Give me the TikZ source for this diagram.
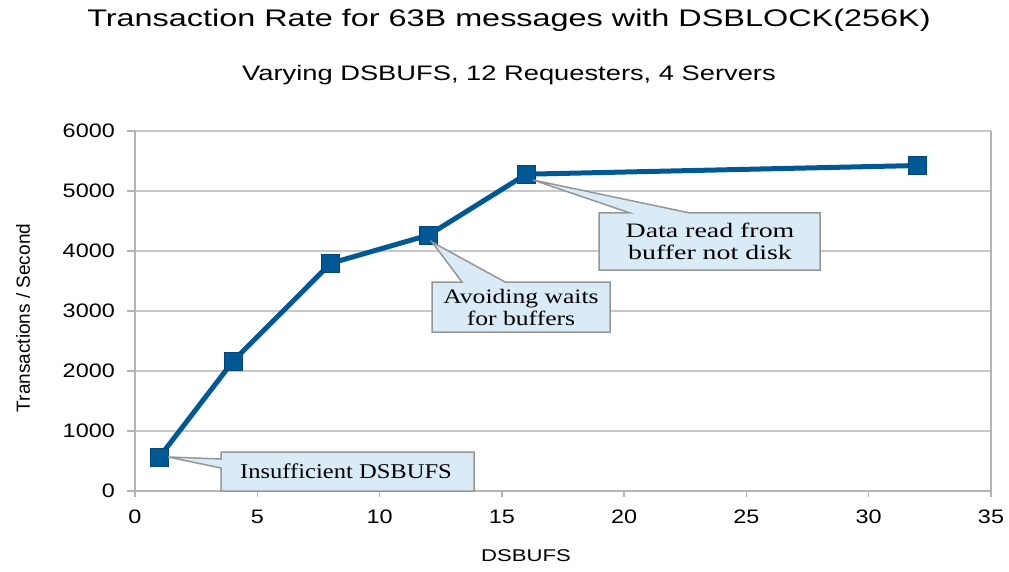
\documentclass[tikz,border=0pt]{standalone}
\usepackage{fontspec}
\setmainfont{Liberation Sans}
\newfontfamily\SansW[FakeStretch=1.35]{Liberation Sans}
\newfontfamily\SansS[FakeStretch=1.3]{Liberation Sans}
\newfontfamily\SansT[FakeStretch=1.2]{Liberation Sans}
\newfontfamily\SansA[FakeStretch=1.3]{Liberation Sans}
\newfontfamily\SerA[FakeStretch=1.17]{Liberation Serif}
\newfontfamily\SerB[FakeStretch=1.25]{Liberation Serif}
\newfontfamily\SerC[FakeStretch=1.36]{Liberation Serif}
\usetikzlibrary{calc}
\definecolor{serieblue}{RGB}{0,88,148}
\definecolor{gridgray}{RGB}{200,200,200}
\definecolor{callfill}{RGB}{216,235,247}
\definecolor{callline}{RGB}{150,150,150}
\begin{document}
\begin{tikzpicture}[x=1pt,y=-1pt,
  gridline/.style={draw=gridgray,line width=1.5pt},
  axisline/.style={draw=gridgray!90!black,line width=1.5pt},
  ticklab/.style={font=\SansT\fontsize{19.5}{21}\selectfont,inner sep=0pt},
  series/.style={draw=serieblue,line width=5pt,line join=round},
  marker/.style={rectangle,fill=serieblue,draw=serieblue!80!black,line width=0.6pt,minimum size=18pt,inner sep=0pt},
  callshape/.style={fill=callfill,draw=callline,line width=1.5pt,line join=miter},
  calltext/.style={align=center,inner sep=0pt,text=black}]
\useasboundingbox (0,0) rectangle (1009,572);
\fill[white] (0,0) rectangle (1009,572);
% grid
\foreach \k in {1,...,6} \draw[gridline] (135,{491-60*\k}) -- (991,{491-60*\k});
\draw[axisline] (135,131) -- (135,491) -- (991,491) -- (991,131);
\foreach \k in {0,...,6} \draw[axisline] (127,{491-60*\k}) -- (135,{491-60*\k});
\foreach \k in {0,...,7} \draw[axisline] ({135+5*\k*24.457},491) -- ({135+5*\k*24.457},497);
% tick labels
\node[ticklab,anchor=east] (y0) at (115,491) {0};
\foreach \k in {1,...,6} \node[ticklab,anchor=east] (y\k) at (115,{491-60*\k}) {\k000};
\foreach \k in {0,...,7} {
  \pgfmathtruncatemacro{\lab}{5*\k}
  \node[ticklab] (x\k) at ({135+5*\k*24.457},517) {\lab};
}
% titles
\node[font=\SansW\fontsize{24}{28}\selectfont,inner sep=0pt] (title) at (509,20) {Transaction Rate for 63B messages with DSBLOCK(256K)};
\node[font=\SansS\fontsize{21}{24}\selectfont,inner sep=0pt] (subtitle) at (509,75) {Varying DSBUFS, 12 Requesters, 4 Servers};
\node[font=\SansA\fontsize{17}{20}\selectfont,inner sep=0pt] (xlab) at (526,556) {DSBUFS};
\node[font=\fontsize{19}{20}\selectfont,inner sep=0pt,rotate=90] (ylab) at (23,318) {Transactions / Second};
% data
\coordinate (p1) at ({135+1*24.457},{491-565*0.06});
\coordinate (p2) at ({135+4*24.457},{491-2160*0.06});
\coordinate (p3) at ({135+8*24.457},{491-3795*0.06});
\coordinate (p4) at ({135+12*24.457},{491-4265*0.06});
\coordinate (p5) at ({135+16*24.457},{491-5280*0.06});
\coordinate (p6) at ({135+32*24.457},{491-5425*0.06});
\draw[series] (p1) -- (p2) -- (p3) -- (p4) -- (p5) -- (p6);
\foreach \i in {1,...,6} \node[marker] (m\i) at (p\i) {};
% callouts
\draw[callshape] (221,452) -- (474,452) -- (474,491) -- (221,491) -- (221,468) -- (168,457) -- (221,459) -- cycle;
\node[calltext,font=\SerA\fontsize{21}{23}\selectfont] (c1) at (346,471.5) {Insufficient DSBUFS};
\draw[callshape] (432,282) -- (462,282) -- (432,242) -- (505,282) -- (610,282) -- (610,332) -- (432,332) -- cycle;
\node[calltext,font=\SerB\fontsize{20.5}{22}\selectfont] (c2) at (521,307) {Avoiding waits\\for buffers};
\draw[callshape] (599,213) -- (630,213) -- (533,180) -- (690,213) -- (820,213) -- (820,270) -- (599,270) -- cycle;
\node[calltext,font=\SerC\fontsize{20.5}{22}\selectfont] (c3) at (710,241.5) {Data read from\\buffer not disk};
\end{tikzpicture}
\end{document}
